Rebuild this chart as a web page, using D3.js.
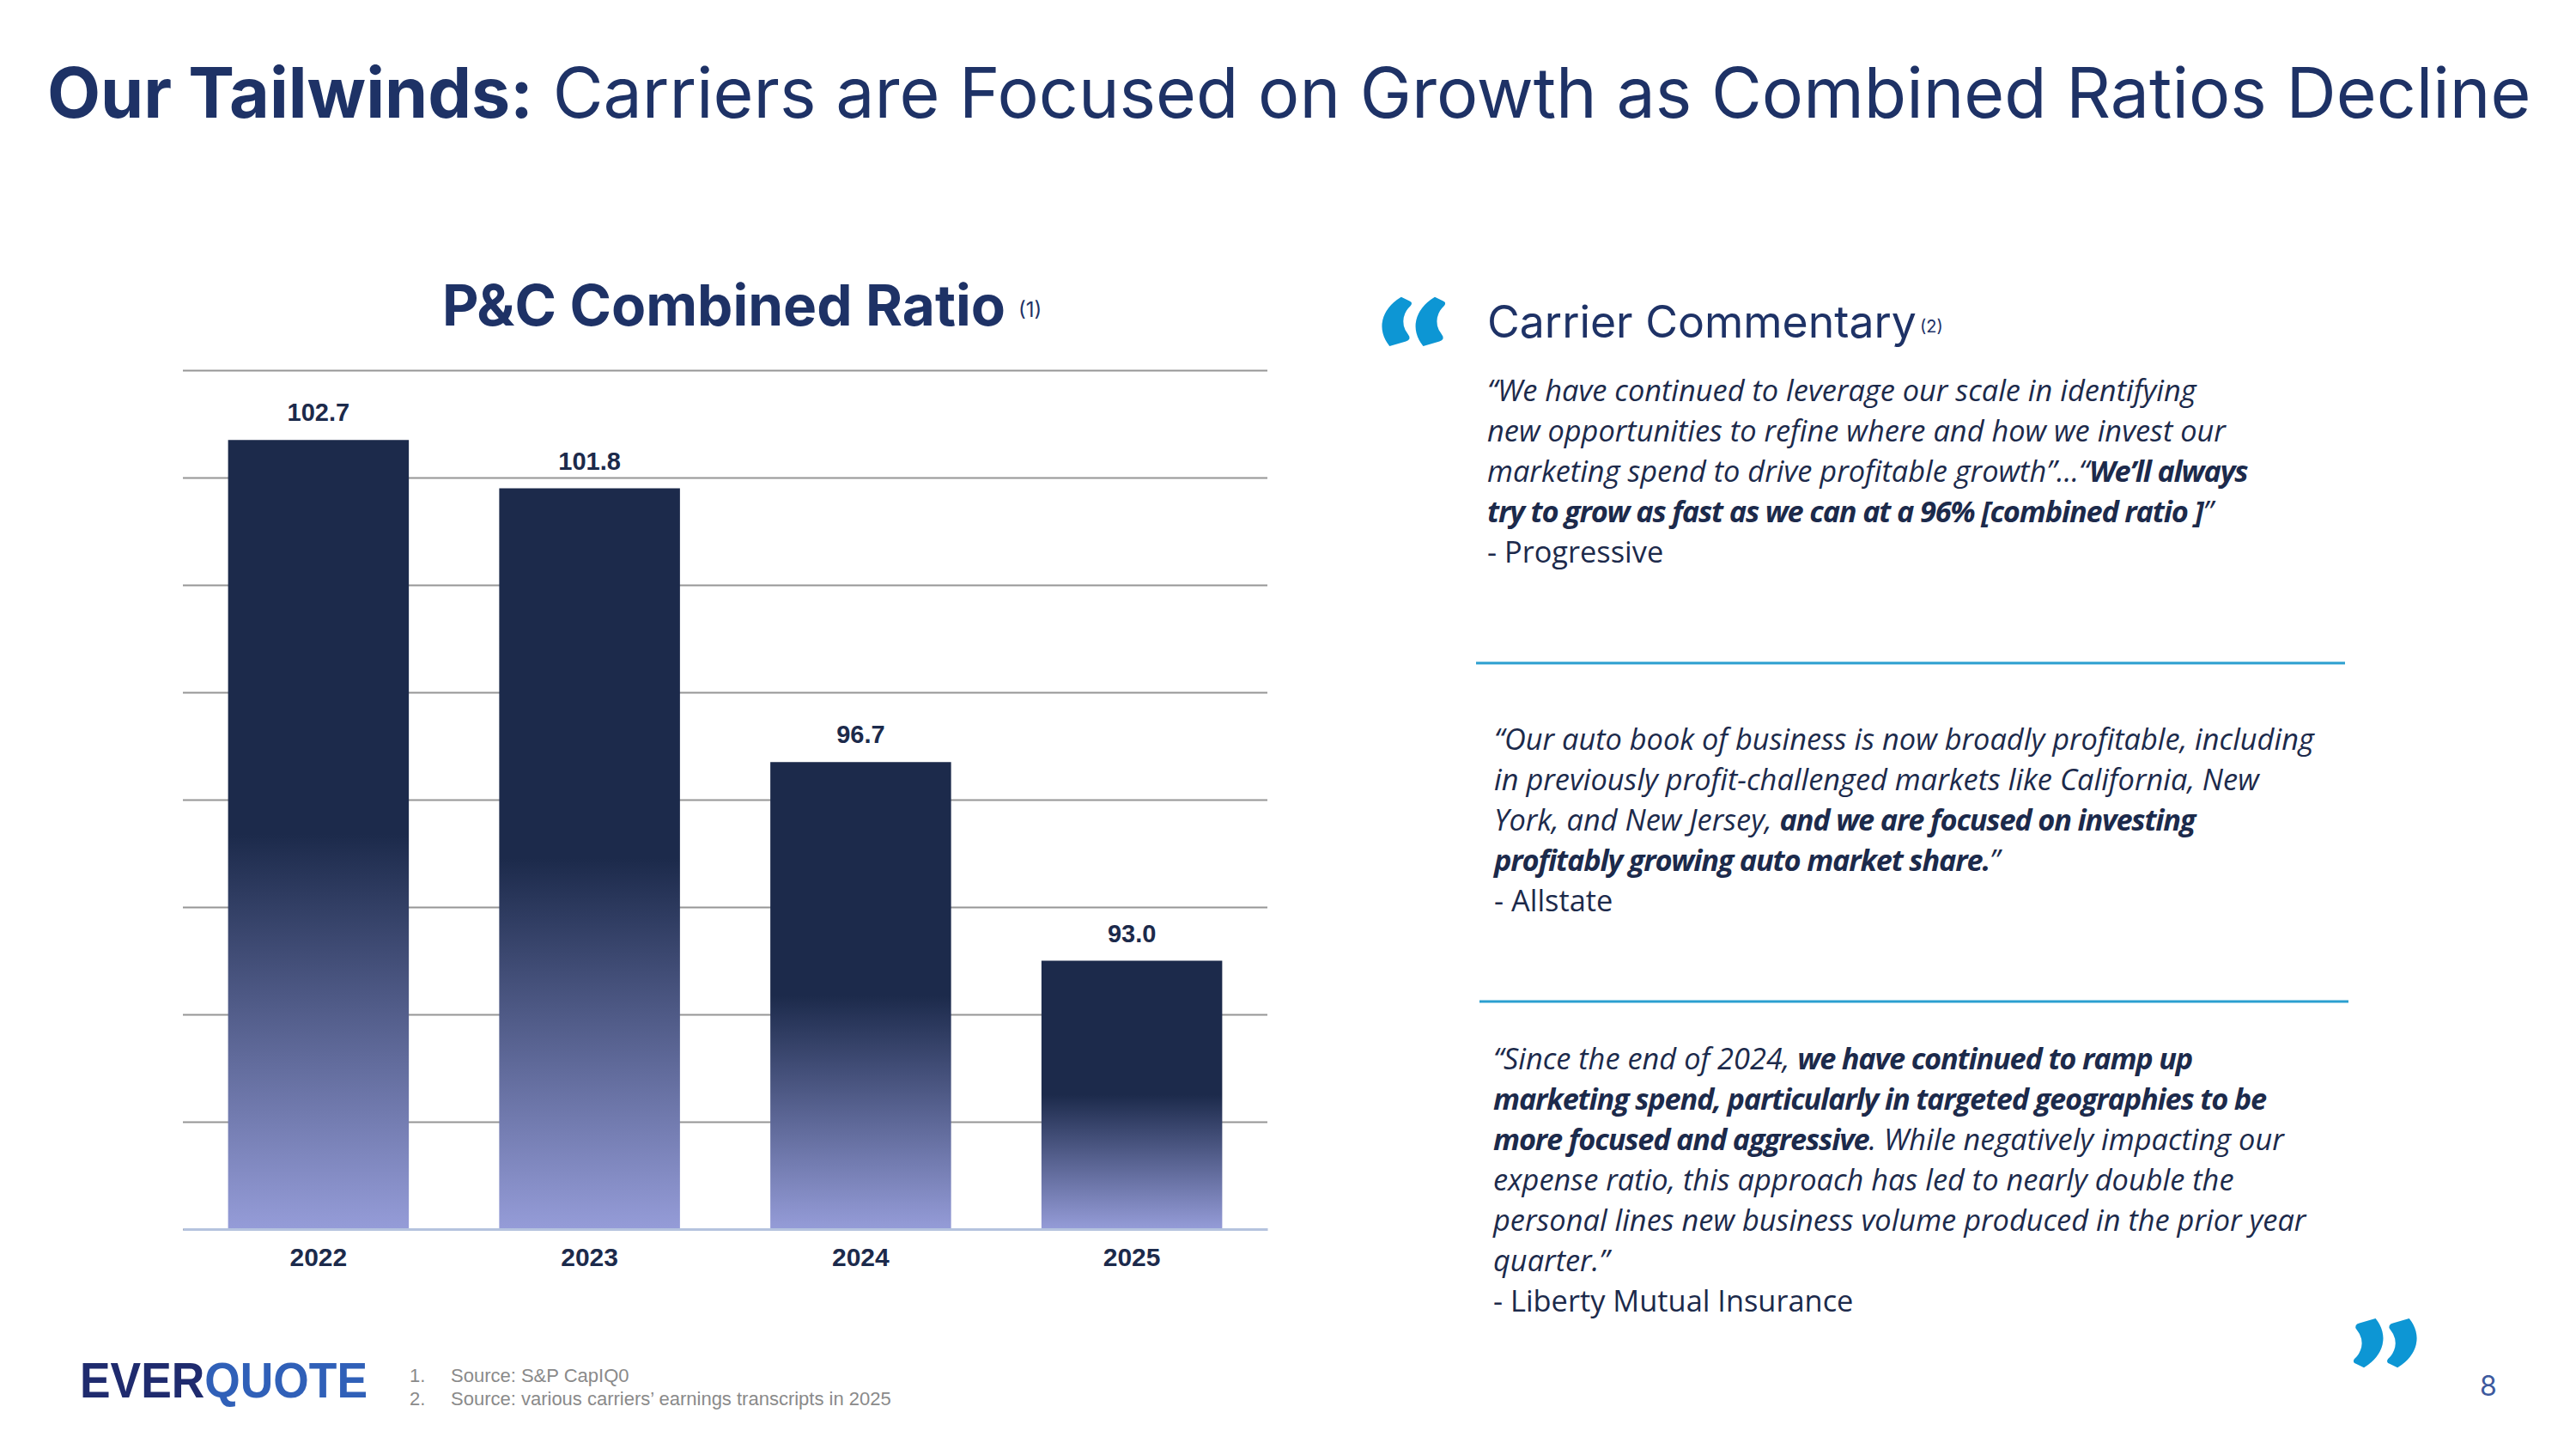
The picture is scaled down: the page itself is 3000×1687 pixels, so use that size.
<!DOCTYPE html>
<html>
<head>
<meta charset="utf-8">
<script src="https://cdn.jsdelivr.net/npm/d3@7/dist/d3.min.js"></script>
<style>
  body { margin: 0; background: #fff; }
  svg { display: block; }
</style>
</head>
<body>
<svg id="slide"></svg>
<script>
// chart data
const years = ['2022', '2023', '2024', '2025']
const ratios = [102.7, 101.8, 96.7, 93.0]
const yDomain = [88, 104]

// slide texts
const titleBold = 'Our Tailwinds:'
const titleRest = ' Carriers are Focused on Growth as Combined Ratios Decline'
const chartTitle = 'P&C Combined Ratio'
const commentaryTitle = 'Carrier Commentary'
const footnotes = ['Source: S&P CapIQ0', 'Source: various carriers’ earnings transcripts in 2025']

// quotes: each line is a list of [text, 'i' italic | 'b' bold italic]
const progressiveLines = [
    [['“We have continued to leverage our scale in identifying', 'i']],
    [['new opportunities to refine where and how we invest our', 'i']],
    [['marketing spend to drive profitable growth”…“', 'i'], ['We’ll always', 'b']],
    [['try to grow as fast as we can at a 96% [combined ratio ]', 'b'], ['”', 'i']]
]
const allstateLines = [
    [['“Our auto book of business is now broadly profitable, including', 'i']],
    [['in previously profit-challenged markets like California, New', 'i']],
    [['York, and New Jersey, ', 'i'], ['and we are focused on investing', 'b']],
    [['profitably growing auto market share.', 'b'], ['”', 'i']]
]
const libertyLines = [
    [['“Since the end of 2024, ', 'i'], ['we have continued to ramp up', 'b']],
    [['marketing spend, particularly in targeted geographies to be', 'b']],
    [['more focused and aggressive', 'b'], ['. While negatively impacting our', 'i']],
    [['expense ratio, this approach has led to nearly double the', 'i']],
    [['personal lines new business volume produced in the prior year', 'i']],
    [['quarter.”', 'i']]
]
const quoteSources = ['- Progressive', '- Allstate', '- Liberty Mutual Insurance']

const NAVY = '#1e3266'
const INK = '#1c2a4b'
const BLUE = '#0d96d4'

const svg = d3.select('#slide')
    .attr('width', 3000)
    .attr('height', 1687)
    .style('font-family', 'Inter, "Noto Sans", sans-serif')

// scale a text so it spans a given width
function fitWidth(sel, target){
    const w = sel.node().getComputedTextLength()
    const fs = parseFloat(sel.attr('font-size'))
    sel.attr('font-size', fs * target / w)
}

/**
 * @Title
 */
const title = svg.append('text')
    .attr('x', 55)
    .attr('y', 137)
    .attr('font-size', 80)
    .attr('fill', NAVY)
title.append('tspan').attr('font-weight', 700).text(titleBold)
title.append('tspan').attr('font-weight', 400).text(titleRest)
fitWidth(title, 2893)

/**
 * @Chart
 */
const plot = { left: 213, right: 1476, top: 431, bottom: 1431 }

const x = d3.scaleBand()
    .domain(years)
    .range([plot.left, plot.right])
    .paddingInner(1 / 3)
    .paddingOuter(1 / 6)

const y = d3.scaleLinear()
    .domain(yDomain)
    .range([plot.bottom, plot.top])

const ct = svg.append('text')
    .attr('x', 515)
    .attr('y', 379)
    .attr('font-size', 63)
    .attr('font-weight', 700)
    .attr('fill', NAVY)
    .text(chartTitle)
fitWidth(ct, 656)
svg.append('text')
    .attr('x', 1186)
    .attr('y', 369)
    .attr('font-size', 24)
    .attr('fill', NAVY)
    .text('(1)')

const defs = svg.append('defs')
const grad = defs.append('linearGradient')
    .attr('id', 'barGrad')
    .attr('x1', 0).attr('y1', 0)
    .attr('x2', 0).attr('y2', 1)
grad.append('stop').attr('offset', '0%').attr('stop-color', '#1c2a4b')
grad.append('stop').attr('offset', '50%').attr('stop-color', '#1c2a4b')
grad.append('stop').attr('offset', '100%').attr('stop-color', '#959cd8')

// gridlines
const grid = svg.append('g')
    .attr('transform', `translate(${plot.left},0)`)
    .call(d3.axisLeft(y).ticks(8).tickSize(-(plot.right - plot.left)).tickFormat(''))
grid.select('.domain').remove()
grid.selectAll('.tick line')
    .attr('stroke', '#969696')
    .attr('stroke-width', 2)

// bars
svg.append('g')
    .selectAll('rect')
    .data(ratios)
    .enter()
    .append('rect')
    .attr('x', (d, i) => x(years[i]))
    .attr('y', d => y(d))
    .attr('width', x.bandwidth())
    .attr('height', d => y(yDomain[0]) - y(d))
    .attr('fill', 'url(#barGrad)')

// value labels
svg.append('g')
    .selectAll('text')
    .data(ratios)
    .enter()
    .append('text')
    .attr('x', (d, i) => x(years[i]) + x.bandwidth() / 2)
    .attr('y', d => y(d) - 22)
    .attr('text-anchor', 'middle')
    .attr('font-family', '"Liberation Sans", Arial, sans-serif')
    .attr('font-weight', 700)
    .attr('font-size', 29)
    .attr('fill', INK)
    .text(d => d.toFixed(1))

// x axis
const xAxis = svg.append('g')
    .attr('transform', `translate(0,${plot.bottom})`)
    .call(d3.axisBottom(x).tickSize(0).tickSizeOuter(0))
xAxis.select('.domain')
    .attr('stroke', '#b5c3de')
    .attr('stroke-width', 3)
xAxis.selectAll('.tick text')
    .attr('y', 43)
    .attr('dy', 0)
    .attr('font-family', '"Liberation Sans", Arial, sans-serif')
    .attr('font-weight', 700)
    .attr('font-size', 30)
    .attr('fill', INK)

/**
 * @Commentary
 */
svg.append('text')
    .attr('transform', 'translate(1601,484) scale(1.3,1)')
    .attr('font-family', 'Lato, sans-serif')
    .attr('font-size', 175)
    .attr('font-weight', 900)
    .attr('fill', BLUE)
    .text('“')

const cc = svg.append('text')
    .attr('x', 1732)
    .attr('y', 393)
    .attr('font-size', 52)
    .attr('fill', NAVY)
    .text(commentaryTitle)
fitWidth(cc, 500)
svg.append('text')
    .attr('x', 2236)
    .attr('y', 387)
    .attr('font-size', 20)
    .attr('fill', NAVY)
    .text('(2)')

const LINE = 47
const quoteFont = '"Open Sans", sans-serif'
let quoteSize = 28

function drawQuote(lines, source, qx, qy){
    const g = svg.append('g')
    lines.forEach((segs, i) => {
        const t = g.append('text')
            .attr('x', qx)
            .attr('y', qy + i * LINE)
            .attr('font-family', quoteFont)
            .attr('font-size', quoteSize)
            .attr('font-style', 'italic')
            .attr('fill', INK)
        segs.forEach(s => {
            t.append('tspan')
                .attr('font-weight', s[1] === 'b' ? 700 : 400)
                .attr('letter-spacing', s[1] === 'b' ? -1.2 : 0)
                .text(s[0])
        })
    })
    g.append('text')
        .attr('x', qx)
        .attr('y', qy + lines.length * LINE)
        .attr('font-family', quoteFont)
        .attr('font-size', quoteSize)
        .attr('fill', INK)
        .text(source)
    return g
}

// size quote text so the first line spans as in the slide
const probe = svg.append('text')
    .attr('font-family', quoteFont)
    .attr('font-size', quoteSize)
    .attr('font-style', 'italic')
    .text(progressiveLines[0][0][0])
quoteSize = quoteSize * 826 / probe.node().getComputedTextLength()
probe.remove()

drawQuote(progressiveLines, quoteSources[0], 1732, 467)
drawQuote(allstateLines, quoteSources[1], 1740, 873)
drawQuote(libertyLines, quoteSources[2], 1739, 1245)

svg.append('line')
    .attr('x1', 1719).attr('x2', 2731)
    .attr('y1', 772).attr('y2', 772)
    .attr('stroke', '#2b9fd0')
    .attr('stroke-width', 3)
svg.append('line')
    .attr('x1', 1723).attr('x2', 2735)
    .attr('y1', 1166).attr('y2', 1166)
    .attr('stroke', '#2b9fd0')
    .attr('stroke-width', 3)

// closing mark: the opening glyph turned half round, so its empty em box sits above it
svg.append('text')
    .attr('transform', 'translate(2771,1563) rotate(180) scale(1.3,1)')
    .attr('x', -40)
    .attr('y', 109)
    .attr('font-family', 'Lato, sans-serif')
    .attr('font-size', 175)
    .attr('font-weight', 900)
    .attr('fill', BLUE)
    .text('“')

/**
 * @Footer
 */
const logo = svg.append('text')
    .attr('x', 93)
    .attr('y', 1627)
    .attr('font-family', '"Liberation Sans", Arial, sans-serif')
    .attr('font-weight', 700)
    .attr('font-size', 57)
    .attr('textLength', 335)
    .attr('lengthAdjust', 'spacingAndGlyphs')
logo.append('tspan').attr('fill', '#1f2b6e').text('EVER')
logo.append('tspan').attr('fill', '#3060b8').text('QUOTE')

footnotes.forEach((f, i) => {
    svg.append('text')
        .attr('x', 477)
        .attr('y', 1609 + i * 27)
        .attr('font-family', '"Liberation Sans", Arial, sans-serif')
        .attr('font-size', 22)
        .attr('fill', '#8a8a8a')
        .text(`${i + 1}.`)
    svg.append('text')
        .attr('x', 525)
        .attr('y', 1609 + i * 27)
        .attr('font-family', '"Liberation Sans", Arial, sans-serif')
        .attr('font-size', 22)
        .attr('fill', '#8a8a8a')
        .text(f)
})

svg.append('text')
    .attr('x', 2898)
    .attr('y', 1625)
    .attr('text-anchor', 'middle')
    .attr('font-size', 32)
    .attr('fill', '#3d5a9e')
    .text('8')
</script>
</body>
</html>
